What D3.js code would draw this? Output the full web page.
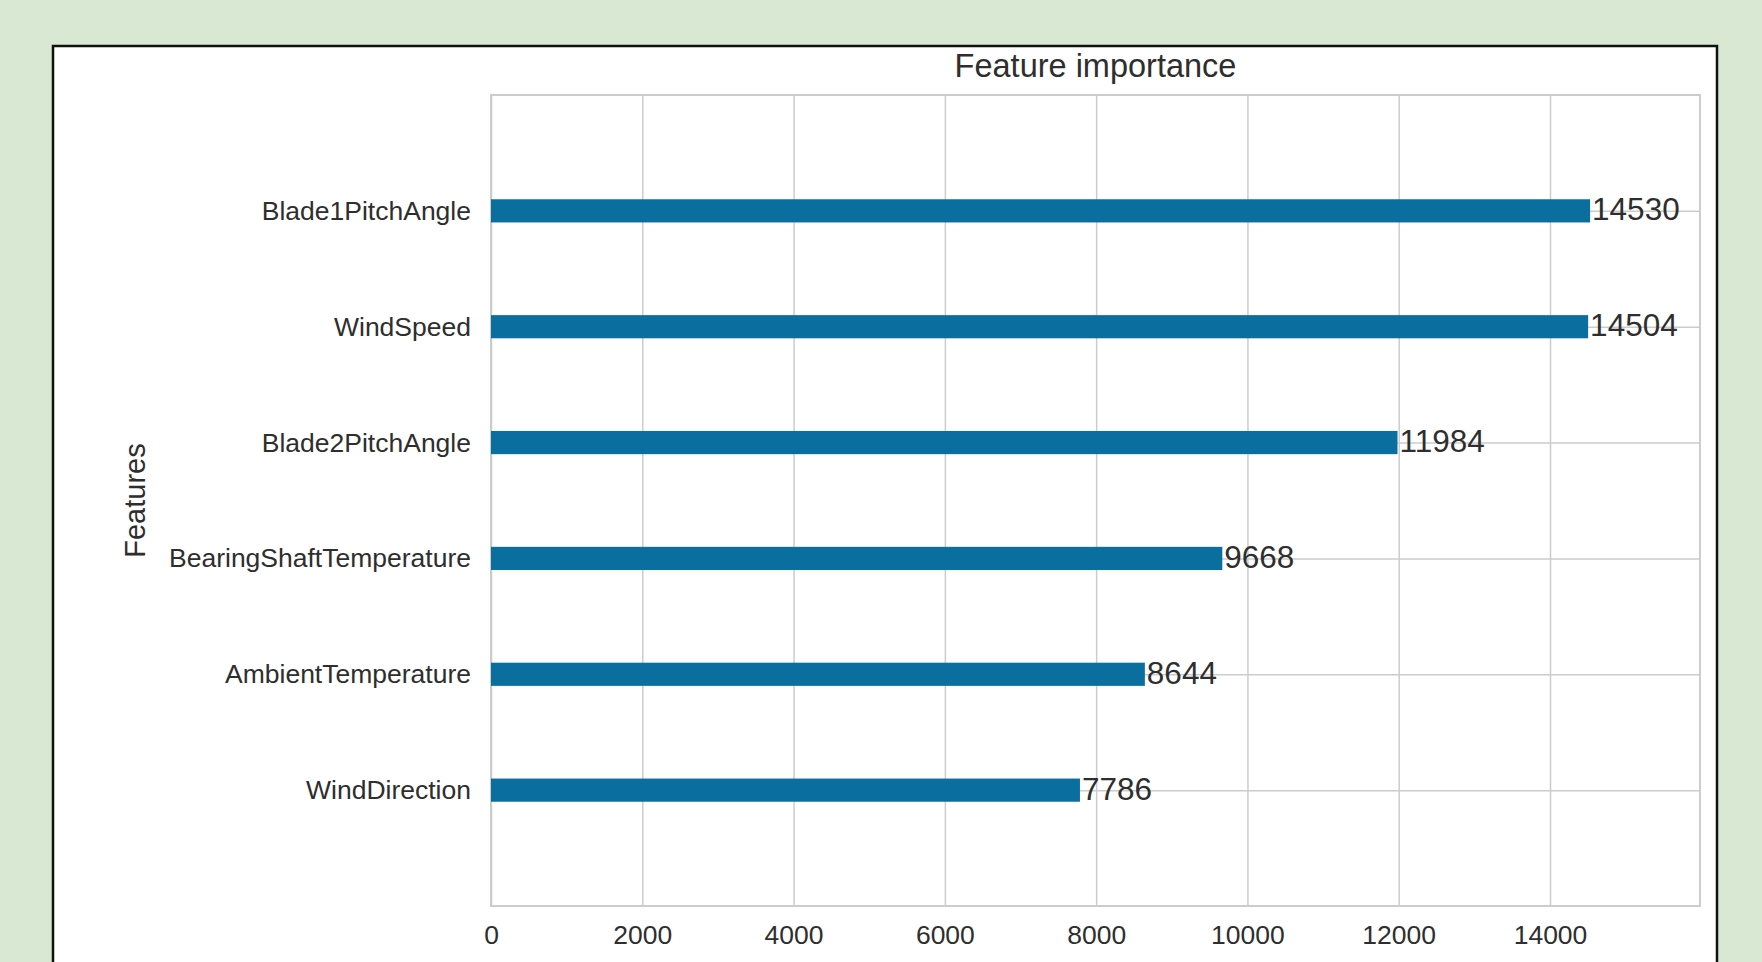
<!DOCTYPE html>
<html>
<head>
    <meta charset="utf-8">
    <title>Feature importance</title>
    <script src="https://d3js.org/d3.v7.min.js"></script>
    <style>
        body { margin: 0; background: #d8e8d2; }
        text { font-family: "Liberation Sans", Arial, sans-serif; fill: #2e2e2e; }
    </style>
</head>
<body>
    <div id="chart"></div>

    <script>
        // data, bottom to top as drawn
        var features = ["WindDirection", "AmbientTemperature", "BearingShaftTemperature",
                        "Blade2PitchAngle", "WindSpeed", "Blade1PitchAngle"];
        var importance = [7786, 8644, 9668, 11984, 14504, 14530];
        var xTicks = [0, 2000, 4000, 6000, 8000, 10000, 12000, 14000];

        var W = 1762, H = 962;
        var margin = { top: 95, right: 62, bottom: 56, left: 491 },
            width = W - margin.left - margin.right,
            height = H - margin.top - margin.bottom;

        var svg = d3.select("#chart")
            .append("svg")
            .attr("width", W)
            .attr("height", H);

        // white panel with black frame
        svg.append("rect")
            .attr("x", 53).attr("y", 46)
            .attr("width", 1664).attr("height", 960)
            .attr("fill", "#fff")
            .attr("stroke", "#111")
            .attr("stroke-width", 2.5);

        var g = svg.append("g")
            .attr("transform", "translate(" + margin.left + "," + margin.top + ")");

        var x = d3.scaleLinear()
            .domain([0, d3.max(importance) * 1.1])
            .range([0, width]);

        var y = d3.scaleLinear()
            .domain([-1, features.length])
            .range([height, 0]);

        // vertical grid + x tick labels
        var xAxis = g.append("g")
            .attr("transform", "translate(0," + height + ")")
            .call(d3.axisBottom(x).tickValues(xTicks).tickSize(-height).tickPadding(0).tickFormat(d3.format("d")));
        xAxis.select(".domain").remove();
        xAxis.selectAll("line").attr("stroke", "#cccccc").attr("stroke-width", 1.5);
        xAxis.selectAll("text")
            .attr("font-size", 26.5)
            .attr("dy", null)
            .attr("y", 38);

        // horizontal grid + y tick labels
        var yAxis = g.append("g")
            .call(d3.axisLeft(y).tickValues(d3.range(features.length)).tickSize(-width).tickPadding(20)
                .tickFormat(function (i) { return features[i]; }));
        yAxis.select(".domain").remove();
        yAxis.selectAll("line").attr("stroke", "#cccccc").attr("stroke-width", 1.5);
        yAxis.selectAll("text")
            .attr("font-size", 26.5);

        // plot frame
        g.append("rect")
            .attr("width", width).attr("height", height)
            .attr("fill", "none")
            .attr("stroke", "#cccccc")
            .attr("stroke-width", 2);

        // bars
        var barH = y(0) - y(0.2);
        g.selectAll(".bar")
            .data(importance)
            .enter().append("rect")
            .attr("class", "bar")
            .attr("x", x(0))
            .attr("y", function (d, i) { return y(i) - barH / 2; })
            .attr("width", function (d) { return x(d) - x(0); })
            .attr("height", barH)
            .attr("fill", "#0a6e9f");

        // value labels
        g.selectAll(".val")
            .data(importance)
            .enter().append("text")
            .attr("class", "val")
            .attr("x", function (d) { return x(d) + 2; })
            .attr("y", function (d, i) { return y(i); })
            .attr("dy", "0.3em")
            .attr("font-size", 31.5)
            .text(function (d) { return d; });

        // title and y label
        g.append("text")
            .attr("x", width / 2)
            .attr("y", -18)
            .attr("text-anchor", "middle")
            .attr("font-size", 32.5)
            .text("Feature importance");

        g.append("text")
            .attr("transform", "translate(" + (135 - margin.left) + "," + (height / 2) + ") rotate(-90)")
            .attr("text-anchor", "middle")
            .attr("dy", "0.35em")
            .attr("font-size", 29)
            .text("Features");
    </script>
</body>
</html>
